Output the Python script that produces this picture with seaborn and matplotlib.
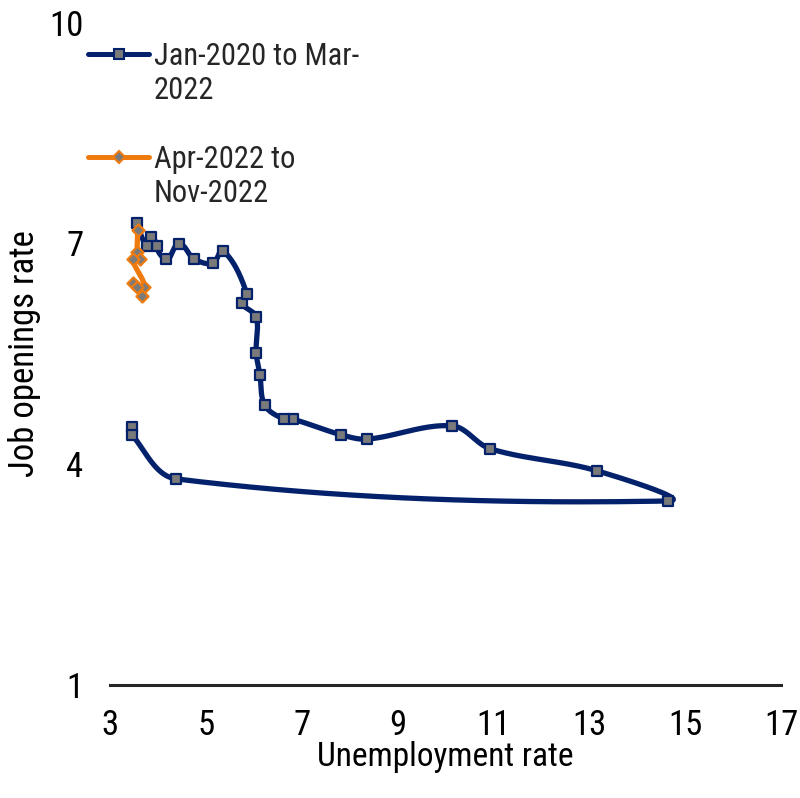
import numpy as np
import matplotlib
matplotlib.use("Agg")
import matplotlib.pyplot as plt
import seaborn as sns
from matplotlib.lines import Line2D

# ---- data ----
period1_label = "Jan-2020 to Mar-\n2022"
period2_label = "Apr-2022 to\nNov-2022"
unemp_2020_2022 = [3.46, 3.46, 4.38, 14.64, 13.16, 10.93, 10.14, 8.36, 7.82, 6.82, 6.63,
                   6.23, 6.13, 6.05, 6.05, 5.75, 5.86, 5.36, 5.15, 4.75, 4.44, 4.17,
                   3.86, 3.98, 3.77, 3.56]
openings_2020_2022 = [4.51, 4.40, 3.80, 3.50, 3.91, 4.21, 4.52, 4.34, 4.40, 4.61, 4.61,
                      4.80, 5.21, 5.51, 6.00, 6.19, 6.31, 6.90, 6.73, 6.79, 6.99, 6.79,
                      7.09, 6.96, 6.96, 7.28]
unemp_2022 = [3.58, 3.57, 3.62, 3.47, 3.71, 3.47, 3.57, 3.67]
openings_2022 = [7.18, 6.88, 6.79, 6.79, 6.41, 6.46, 6.41, 6.29]
x_ticks = [3, 5, 7, 9, 11, 13, 15, 17]
y_ticks = [1, 4, 7, 10]

NAVY = "#04226c"
ORANGE = "#ef7b0f"
GREY = "#7a7a7a"

sns.set_theme(style="white")
plt.rcParams["font.family"] = ["Roboto Condensed", "Liberation Sans", "DejaVu Sans"]

fig = plt.figure(figsize=(8, 7.98), dpi=100)
ax = fig.add_axes([110 / 800, 1 - 685 / 798, (781 - 110) / 800, (685 - 22.5) / 798])
ax.set_xlim(3, 17)
ax.set_ylim(1, 10)


def smooth(xs, ys, n=40):
    pts = ax.transData.transform(np.column_stack([xs, ys]))
    m = len(pts)
    out = [pts[0]]
    for i in range(m - 1):
        p0, p3 = pts[i], pts[i + 1]
        prev = pts[i - 1] if i > 0 else pts[i]
        nxt = pts[i + 2] if i + 2 < m else pts[i + 1]
        d = np.linalg.norm(p3 - p0)
        t1, t2 = p3 - prev, nxt - p0
        n1, n2 = np.linalg.norm(t1), np.linalg.norm(t2)
        c1 = p0 + (t1 / n1 * d / 3 if n1 > 0 else 0)
        c2 = p3 - (t2 / n2 * d / 3 if n2 > 0 else 0)
        t = np.linspace(0, 1, n)[1:, None]
        seg = ((1 - t) ** 3) * p0 + 3 * ((1 - t) ** 2) * t * c1 + 3 * (1 - t) * t ** 2 * c2 + t ** 3 * p3
        out.extend(seg)
    out = ax.transData.inverted().transform(np.array(out))
    return out[:, 0], out[:, 1]


bx, by = smooth(unemp_2020_2022, openings_2020_2022)
ox, oy = smooth(unemp_2022, openings_2022)

sns.lineplot(x=bx, y=by, sort=False, estimator=None, color=NAVY, lw=3.8, ax=ax, zorder=2)
sns.scatterplot(x=unemp_2020_2022, y=openings_2020_2022, marker="s", s=42, color=GREY,
                edgecolor=NAVY, linewidth=1.6, ax=ax, zorder=3)
sns.lineplot(x=ox, y=oy, sort=False, estimator=None, color=ORANGE, lw=3.8, ax=ax, zorder=4)
sns.scatterplot(x=unemp_2022, y=openings_2022, marker="D", s=38, color=GREY,
                edgecolor=ORANGE, linewidth=1.6, ax=ax, zorder=5)

for s in ["top", "right", "left"]:
    ax.spines[s].set_visible(False)
ax.spines["bottom"].set_color("#262626")
ax.spines["bottom"].set_linewidth(2.2)
ax.set_xticks(x_ticks)
ax.set_yticks(y_ticks)
ax.tick_params(axis="both", length=0, labelsize=25, colors="black")
ax.tick_params(axis="x", pad=17)
ax.tick_params(axis="y", pad=19)
ax.grid(False)
ax.set_xlabel("Unemployment rate", fontsize=24, color="black")
ax.set_ylabel("Job openings rate", fontsize=25, color="black", va="center")
ax.xaxis.set_label_coords(0.5, (685 - 741) / 662.5)
ax.yaxis.set_label_coords((24 - 110) / 671, 0.5)

h1 = Line2D([], [], color=NAVY, lw=3.6, marker="s", markersize=6.5, markerfacecolor=GREY,
            markeredgecolor=NAVY, markeredgewidth=1.5)
h2 = Line2D([], [], color=ORANGE, lw=3.6, marker="D", markersize=6, markerfacecolor=GREY,
            markeredgecolor=ORANGE, markeredgewidth=1.5)
blank = Line2D([], [], linestyle="none")
l1a, l1b = period1_label.split("\n")
l2a, l2b = period2_label.split("\n")
fig.legend([h1, blank, blank, h2, blank], [l1a, l1b, " ", l2a, l2b],
           loc="upper left", bbox_to_anchor=(88 / 800, 1 - 42 / 798), frameon=False,
           fontsize=22, handlelength=2.0, handletextpad=0.15, labelspacing=0.17,
           borderpad=0, borderaxespad=0)

fig.savefig("out.png", dpi=100)
